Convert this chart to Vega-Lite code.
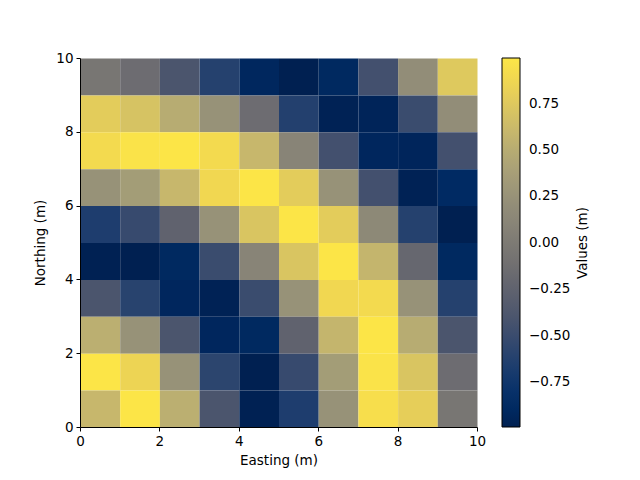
{
  "$schema": "https://vega.github.io/schema/vega-lite/v6.json",
  "width": 397,
  "height": 369,
  "autosize": "none",
  "padding": {"left": 80, "top": 58, "right": 163, "bottom": 53},
  "background": "white",
  "config": {
    "view": {"stroke": null},
    "font": "DejaVu Sans",
    "axis": {
      "grid": false,
      "domainColor": "black",
      "tickColor": "black",
      "labelColor": "black",
      "titleColor": "black",
      "labelFontSize": 13.5,
      "titleFontSize": 13.5,
      "titleFontWeight": "normal",
      "tickSize": 4,
      "labelPadding": 3,
      "labelFlush": false
    }
  },
  "data": {
    "values": [
      {"e":0,"n":9,"v":-0.05},{"e":1,"n":9,"v":-0.15},{"e":2,"n":9,"v":-0.4},{"e":3,"n":9,"v":-0.62},{"e":4,"n":9,"v":-0.92},{"e":5,"n":9,"v":-0.99},{"e":6,"n":9,"v":-0.9},{"e":7,"n":9,"v":-0.45},{"e":8,"n":9,"v":0.2},{"e":9,"n":9,"v":0.75},
      {"e":0,"n":8,"v":0.78},{"e":1,"n":8,"v":0.7},{"e":2,"n":8,"v":0.5},{"e":3,"n":8,"v":0.25},{"e":4,"n":8,"v":-0.15},{"e":5,"n":8,"v":-0.63},{"e":6,"n":8,"v":-0.97},{"e":7,"n":8,"v":-0.95},{"e":8,"n":8,"v":-0.5},{"e":9,"n":8,"v":0.2},
      {"e":0,"n":7,"v":0.9},{"e":1,"n":7,"v":0.97},{"e":2,"n":7,"v":0.99},{"e":3,"n":7,"v":0.9},{"e":4,"n":7,"v":0.6},{"e":5,"n":7,"v":0.1},{"e":6,"n":7,"v":-0.45},{"e":7,"n":7,"v":-0.93},{"e":8,"n":7,"v":-0.94},{"e":9,"n":7,"v":-0.45},
      {"e":0,"n":6,"v":0.25},{"e":1,"n":6,"v":0.35},{"e":2,"n":6,"v":0.6},{"e":3,"n":6,"v":0.88},{"e":4,"n":6,"v":0.99},{"e":5,"n":6,"v":0.78},{"e":6,"n":6,"v":0.25},{"e":7,"n":6,"v":-0.45},{"e":8,"n":6,"v":-0.97},{"e":9,"n":6,"v":-0.88},
      {"e":0,"n":5,"v":-0.66},{"e":1,"n":5,"v":-0.52},{"e":2,"n":5,"v":-0.25},{"e":3,"n":5,"v":0.25},{"e":4,"n":5,"v":0.72},{"e":5,"n":5,"v":0.99},{"e":6,"n":5,"v":0.78},{"e":7,"n":5,"v":0.15},{"e":8,"n":5,"v":-0.62},{"e":9,"n":5,"v":-0.99},
      {"e":0,"n":4,"v":-0.98},{"e":1,"n":4,"v":-0.99},{"e":2,"n":4,"v":-0.9},{"e":3,"n":4,"v":-0.5},{"e":4,"n":4,"v":0.1},{"e":5,"n":4,"v":0.72},{"e":6,"n":4,"v":0.99},{"e":7,"n":4,"v":0.58},{"e":8,"n":4,"v":-0.2},{"e":9,"n":4,"v":-0.9},
      {"e":0,"n":3,"v":-0.4},{"e":1,"n":3,"v":-0.6},{"e":2,"n":3,"v":-0.93},{"e":3,"n":3,"v":-0.97},{"e":4,"n":3,"v":-0.5},{"e":5,"n":3,"v":0.25},{"e":6,"n":3,"v":0.88},{"e":7,"n":3,"v":0.9},{"e":8,"n":3,"v":0.25},{"e":9,"n":3,"v":-0.62},
      {"e":0,"n":2,"v":0.52},{"e":1,"n":2,"v":0.25},{"e":2,"n":2,"v":-0.4},{"e":3,"n":2,"v":-0.93},{"e":4,"n":2,"v":-0.9},{"e":5,"n":2,"v":-0.25},{"e":6,"n":2,"v":0.58},{"e":7,"n":2,"v":0.99},{"e":8,"n":2,"v":0.5},{"e":9,"n":2,"v":-0.4},
      {"e":0,"n":1,"v":0.99},{"e":1,"n":1,"v":0.85},{"e":2,"n":1,"v":0.25},{"e":3,"n":1,"v":-0.58},{"e":4,"n":1,"v":-0.99},{"e":5,"n":1,"v":-0.52},{"e":6,"n":1,"v":0.35},{"e":7,"n":1,"v":0.97},{"e":8,"n":1,"v":0.72},{"e":9,"n":1,"v":-0.15},
      {"e":0,"n":0,"v":0.6},{"e":1,"n":0,"v":0.99},{"e":2,"n":0,"v":0.52},{"e":3,"n":0,"v":-0.4},{"e":4,"n":0,"v":-0.98},{"e":5,"n":0,"v":-0.66},{"e":6,"n":0,"v":0.25},{"e":7,"n":0,"v":0.93},{"e":8,"n":0,"v":0.8},{"e":9,"n":0,"v":-0.05}
    ]
  },
  "mark": {"type": "rect", "strokeWidth": 0, "binSpacing": 0},
  "encoding": {
    "x": {
      "field": "e", "type": "quantitative",
      "bin": {"binned": true, "step": 1},
      "scale": {"domain": [0, 10], "nice": false, "zero": false},
      "axis": {"values": [0, 2, 4, 6, 8, 10], "format": "d", "title": "Easting (m)", "titlePadding": 6}
    },
    "y": {
      "field": "n", "type": "quantitative",
      "bin": {"binned": true, "step": 1},
      "scale": {"domain": [0, 10], "nice": false, "zero": false},
      "axis": {"values": [0, 2, 4, 6, 8, 10], "format": "d", "title": "Northing (m)", "titlePadding": 8}
    },
    "color": {
      "field": "v", "type": "quantitative",
      "scale": {"scheme": "cividis", "domain": [-0.99, 0.995]},
      "legend": {
        "type": "gradient",
        "title": "Values (m)",
        "orient": "right",
        "offset": 25,
        "padding": 0,
        "gradientLength": 369,
        "gradientThickness": 18,
        "gradientStrokeColor": "black",
        "gradientStrokeWidth": 1,
        "values": [-0.75, -0.5, -0.25, 0, 0.25, 0.5, 0.75],
        "format": ".2f",
        "labelFontSize": 13.5,
        "labelColor": "black",
        "labelOffset": 9,
        "labelOverlap": false,
        "titleOrient": "right",
        "titleFontSize": 13.5,
        "titleFontWeight": "normal",
        "titleColor": "black",
        "titleAnchor": "middle",
        "titlePadding": 20,
        "encode": {"title": {"update": {"angle": {"value": -90}}}}
      }
    }
  }
}
